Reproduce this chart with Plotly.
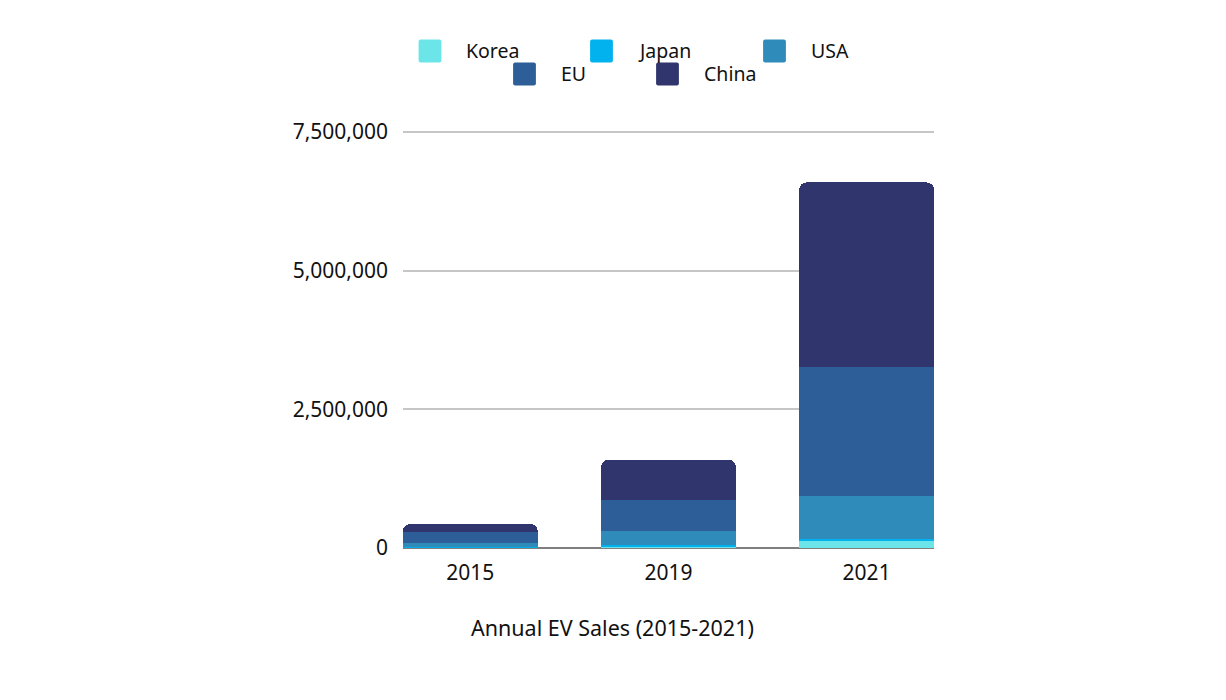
import plotly.graph_objects as go

years = ["2015", "2019", "2021"]
korea = [3000, 25000, 120000]
japan = [10000, 25000, 40000]
usa = [72000, 260000, 780000]
eu = [205000, 550000, 2320000]
china = [140000, 730000, 3330000]

series_names = ["Korea", "Japan", "USA", "EU", "China"]
series_values = [korea, japan, usa, eu, china]
colors = ["#6ce5e8", "#02b2ee", "#2e8bba", "#2e5e98", "#31356e"]

y_ticks = [0, 2500000, 5000000, 7500000]
y_tick_text = ["0", "2,500,000", "5,000,000", "7,500,000"]

x_title = "Annual EV Sales (2015-2021)"

FONT = "Noto Sans"

W, H = 1226, 700
ML, MR, MT, MB = 403, 292, 130, 152
PW, PH = W - ML - MR, H - MT - MB
Y_MAX = 7500000 * PH / 416.0

fig = go.Figure()
for name, vals, col in zip(series_names, series_values, colors):
    fig.add_trace(go.Bar(x=years, y=vals, name=name, marker=dict(color=col, line=dict(width=0)),
                         showlegend=False, hoverinfo="skip"))


def px(x):
    return (x - ML) / PW


def py(y):
    return (H - MB - y) / PH


# custom legend (pixel layout converted to paper coords)
legend_items = [
    ("Korea", 430, 51), ("Japan", 601.5, 51), ("USA", 774.5, 51),
    ("EU", 524.5, 74), ("China", 667.5, 74),
]
shapes = []
annotations = []
s = 11.4
r = 2
for (name, cx, cy), col in zip(legend_items, colors):
    x0, x1 = cx - s, cx + s
    y0, y1 = cy - s, cy + s
    path = (f"M{px(x0 + r)},{py(y0)} L{px(x1 - r)},{py(y0)} Q{px(x1)},{py(y0)} {px(x1)},{py(y0 + r)} "
            f"L{px(x1)},{py(y1 - r)} Q{px(x1)},{py(y1)} {px(x1 - r)},{py(y1)} "
            f"L{px(x0 + r)},{py(y1)} Q{px(x0)},{py(y1)} {px(x0)},{py(y1 - r)} "
            f"L{px(x0)},{py(y0 + r)} Q{px(x0)},{py(y0)} {px(x0 + r)},{py(y0)} Z")
    shapes.append(dict(type="path", xref="paper", yref="paper", path=path,
                       fillcolor=col, line=dict(width=0), layer="above"))
    annotations.append(dict(xref="paper", yref="paper", x=px(cx + 34), y=py(cy),
                            text=name, showarrow=False, xanchor="left", yanchor="middle",
                            font=dict(family=FONT, size=19.5, color="#111111")))

# x-axis title, centred on the page like the reference
annotations.append(dict(xref="paper", yref="paper", x=px(612.5), y=py(627),
                        text=x_title, showarrow=False, xanchor="center", yanchor="middle",
                        font=dict(family=FONT, size=21.5, color="#111111")))

fig.update_layout(
    width=W, height=H,
    paper_bgcolor="white", plot_bgcolor="white",
    barmode="stack", bargap=0.32, barcornerradius=7,
    margin=dict(l=ML, r=MR, t=MT, b=MB, autoexpand=False),
    font=dict(family=FONT, size=21, color="#111111"),
    xaxis=dict(type="category", range=[-0.34, 2.34], showgrid=False, showline=False,
               ticks="", tickfont=dict(size=21), ticklabelstandoff=10),
    yaxis=dict(range=[0, Y_MAX], tickvals=y_ticks, ticktext=y_tick_text,
               showgrid=True, gridcolor="#c6c6c6", gridwidth=1.5,
               zeroline=True, zerolinecolor="#7f7f7f", zerolinewidth=2,
               showline=False, ticks="", ticklabelstandoff=14, tickfont=dict(size=21)),
    shapes=shapes, annotations=annotations,
)

fig.write_html("out.html", config={"displayModeBar": False},
               post_script="document.body.style.margin='0';")
